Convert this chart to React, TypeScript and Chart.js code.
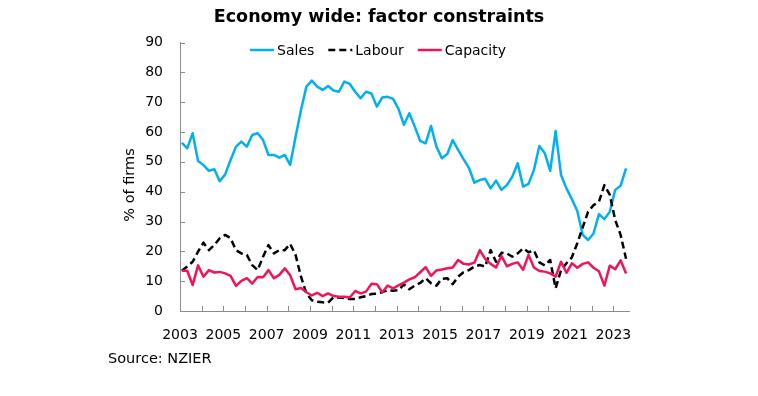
import React, { useEffect, useRef } from 'react';
import { Chart, registerables } from 'chart.js';

Chart.register(...registerables);

// ---------- data ----------
const startYear = 2003;
const chartTitle = 'Economy wide: factor constraints';
const sourceNote = 'Source: NZIER';
const yAxisTitle = '% of firms';
const yearTickLabels = ['2003', '2005', '2007', '2009', '2011', '2013', '2015', '2017', '2019', '2021', '2023'];
const seriesNames = ['Sales', 'Labour', 'Capacity'];

const sales = [
  56.4, 54.5, 59.6, 50.3, 48.9, 47.0, 47.5, 43.5, 45.8, 50.6,
  55.1, 56.8, 55.1, 59.0, 59.6, 57.3, 52.3, 52.3, 51.4, 52.3,
  49.0, 58.4, 67.4, 75.2, 77.2, 75.2, 74.1, 75.4, 73.9, 73.5,
  76.9, 76.1, 73.5, 71.3, 73.5, 72.9, 68.5, 71.6, 71.8, 71.1,
  67.7, 62.4, 66.3, 61.8, 57.0, 56.2, 62.0, 55.1, 51.2, 52.6,
  57.3, 54.0, 50.9, 48.0, 43.0, 43.9, 44.3, 41.1, 43.7, 40.6,
  42.2, 45.0, 49.5, 41.7, 42.6, 47.3, 55.3, 52.9, 47.0, 60.3,
  45.6, 41.1, 37.5, 33.5, 25.5, 23.8, 26.0, 32.5, 30.8, 33.3,
  40.6, 42.0, 47.8,
];

const labour = [
  13.5, 14.9, 16.5, 19.9, 22.9, 20.4, 22.1, 24.4, 25.5, 24.4,
  20.4, 19.3, 18.8, 15.4, 13.7, 18.2, 22.1, 19.3, 20.4, 20.4,
  22.5, 18.8, 11.5, 5.9, 3.6, 3.1, 2.9, 2.8, 4.6, 4.5,
  4.3, 4.0, 4.0, 4.6, 5.0, 5.7, 5.8, 6.3, 7.0, 6.8,
  7.0, 8.9, 7.3, 8.5, 9.4, 11.0, 9.3, 8.5, 10.8, 11.0,
  9.0, 11.5, 13.0, 13.7, 14.9, 15.4, 14.9, 20.4, 16.5, 19.5,
  19.3, 18.2, 19.3, 21.0, 19.7, 20.3, 16.3, 15.3, 17.1, 7.6,
  13.7, 16.0, 18.0, 22.7, 28.0, 33.3, 35.5, 36.6, 42.2, 39.0,
  30.5, 25.5, 17.5,
];

const capacity = [
  13.5, 13.5, 8.7, 15.3, 11.5, 13.7, 12.9, 13.1, 12.6, 11.8,
  8.4, 10.1, 11.0, 9.2, 11.4, 11.3, 13.7, 11.0, 12.1, 14.3,
  12.0, 7.3, 7.7, 6.3, 5.2, 6.1, 5.0, 5.9, 5.0, 4.8,
  4.8, 4.5, 6.7, 5.9, 6.5, 9.1, 9.0, 6.3, 8.5, 7.6,
  8.6, 9.5, 10.6, 11.3, 13.0, 14.7, 11.8, 13.6, 13.9, 14.3,
  14.6, 17.1, 15.8, 15.6, 16.2, 20.4, 17.5, 15.8, 14.6, 18.5,
  15.0, 15.8, 16.3, 13.8, 18.8, 14.6, 13.4, 13.2, 12.6, 11.5,
  16.5, 12.8, 16.0, 14.5, 15.8, 16.3, 14.5, 13.3, 8.5, 15.2,
  14.0, 17.0, 12.6,
];

// ---------- style ----------
const FONT = '"DejaVu Sans", Verdana, sans-serif';
const AXIS_COLOR = '#8c8c8c';
const TEXT_COLOR = '#000000';
const SALES_COLOR = '#00B0F0';
const LABOUR_COLOR = '#000000';
const CAPACITY_COLOR = '#F2145A';

const toPoints = (arr: number[]) =>
  arr.map((v, i) => ({ x: startYear + 1 / 12 + i / 4, y: v }));

const decorPlugin = {
  id: 'decor',
  beforeDatasetsDraw(chart: any) {
    const { ctx, scales } = chart;
    const x = scales.x;
    const y = scales.y;
    ctx.save();
    ctx.strokeStyle = AXIS_COLOR;
    ctx.lineWidth = 1;
    x.ticks.forEach((t: any) => {
      if (!Number.isInteger(t.value)) return;
      const px = Math.round(x.getPixelForValue(t.value)) + 0.5;
      ctx.beginPath();
      ctx.moveTo(px, y.bottom);
      ctx.lineTo(px, y.bottom - 5);
      ctx.stroke();
    });
    y.ticks.forEach((t: any) => {
      const py = Math.round(y.getPixelForValue(t.value)) + 0.5;
      ctx.beginPath();
      ctx.moveTo(x.left, py);
      ctx.lineTo(x.left + 5, py);
      ctx.stroke();
    });
    ctx.restore();
  },
  afterDraw(chart: any) {
    const { ctx } = chart;
    ctx.save();
    // legend
    ctx.font = `14px ${FONT}`;
    ctx.textBaseline = 'middle';
    ctx.textAlign = 'left';
    const lineLen = 24;
    const gap = 3;
    const itemGap = 14;
    const items = chart.data.datasets.map((ds: any) => ({
      ds,
      w: ctx.measureText(ds.label).width,
    }));
    const total =
      items.reduce((s: number, it: any) => s + lineLen + gap + it.w, 0) +
      itemGap * (items.length - 1);
    let cx = 378 - total / 2;
    const cy = 50;
    items.forEach((it: any) => {
      ctx.strokeStyle = it.ds.borderColor;
      ctx.lineWidth = it.ds.borderWidth;
      ctx.setLineDash(it.ds.borderDash || []);
      ctx.beginPath();
      ctx.moveTo(cx, cy);
      ctx.lineTo(cx + lineLen, cy);
      ctx.stroke();
      ctx.setLineDash([]);
      ctx.fillStyle = TEXT_COLOR;
      ctx.fillText(it.ds.label, cx + lineLen + gap, cy + 1);
      cx += lineLen + gap + it.w + itemGap;
    });
    // y axis title
    ctx.font = `14.5px ${FONT}`;
    ctx.translate(130, 185);
    ctx.rotate(-Math.PI / 2);
    ctx.textAlign = 'center';
    ctx.fillStyle = TEXT_COLOR;
    ctx.fillText(yAxisTitle, 0, 0);
    ctx.restore();
  },
};

export default function App() {
  const ref = useRef<HTMLCanvasElement>(null);

  useEffect(() => {
    if (!ref.current) return;
    const chart = new Chart(ref.current, {
      type: 'line',
      data: {
        datasets: [
          {
            label: seriesNames[0],
            data: toPoints(sales),
            borderColor: SALES_COLOR,
            borderWidth: 2.5,
            pointRadius: 0,
            borderJoinStyle: 'round',
            order: 2,
          },
          {
            label: seriesNames[1],
            data: toPoints(labour),
            borderColor: LABOUR_COLOR,
            borderWidth: 2.5,
            borderDash: [7, 4],
            pointRadius: 0,
            borderJoinStyle: 'round',
            order: 1,
          },
          {
            label: seriesNames[2],
            data: toPoints(capacity),
            borderColor: CAPACITY_COLOR,
            borderWidth: 2.5,
            pointRadius: 0,
            borderJoinStyle: 'round',
            order: 0,
          },
        ],
      },
      options: {
        responsive: false,
        animation: false,
        events: [],
        layout: { padding: { left: 108, right: 108, top: 0, bottom: 0 } },
        plugins: {
          legend: { display: false },
          tooltip: { enabled: false },
          title: {
            display: true,
            text: chartTitle,
            color: TEXT_COLOR,
            font: { family: FONT, size: 17.5, weight: 'bold' },
            padding: { top: 7, bottom: 14.5 },
          },
          subtitle: {
            display: true,
            position: 'bottom',
            align: 'start',
            text: sourceNote,
            color: TEXT_COLOR,
            font: { family: FONT, size: 14.5 },
            padding: { top: 9.3, bottom: 28.3 },
          },
        },
        scales: {
          x: {
            type: 'linear',
            min: startYear,
            max: 2023.72,
            grid: { display: false },
            border: { display: true, color: AXIS_COLOR, width: 1 },
            ticks: {
              stepSize: 1,
              autoSkip: false,
              includeBounds: false,
              maxRotation: 0,
              minRotation: 0,
              padding: 8,
              color: TEXT_COLOR,
              font: { family: FONT, size: 14 },
              callback: (v: any) =>
                yearTickLabels.includes(String(v)) ? String(v) : '',
            },
            afterFit: (s: any) => {
              s.height = 30;
            },
          },
          y: {
            min: 0,
            max: 90,
            grid: { display: false },
            border: { display: true, color: AXIS_COLOR, width: 1 },
            ticks: {
              stepSize: 10,
              padding: 9,
              color: TEXT_COLOR,
              font: { family: FONT, size: 14 },
            },
            afterFit: (s: any) => {
              s.width = 72;
            },
          },
          y2: {
            position: 'right',
            display: true,
            grid: { display: false },
            border: { display: false },
            ticks: { display: false },
            afterFit: (s: any) => {
              s.width = 21;
            },
          },
        },
      },
      plugins: [decorPlugin],
    } as any);
    return () => chart.destroy();
  }, []);

  return (
    <div style={{ position: 'absolute', left: 0, top: 0, width: 758, height: 396 }}>
      <canvas ref={ref} width={758} height={396} style={{ display: 'block' }} />
    </div>
  );
}
